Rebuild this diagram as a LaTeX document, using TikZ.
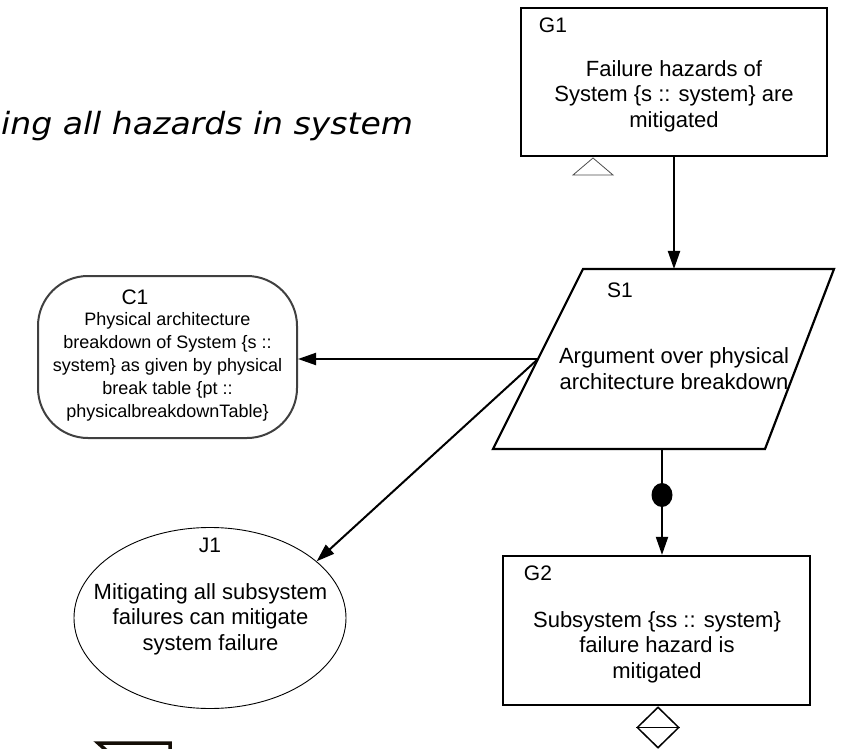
\documentclass[tikz,border=0pt]{standalone}
\usepackage{fontspec}
\setmainfont{Liberation Sans}
\newfontfamily\titlefont{DejaVu Sans}[FakeStretch=1.08]
\usetikzlibrary{arrows.meta,shapes.geometric}

\begin{document}
\begin{tikzpicture}[x=1pt,y=-1pt,
  goalbox/.style={draw=black,line width=2.2pt,rectangle,inner sep=0pt},
  ctxbox/.style={draw=black!75,line width=2pt,rectangle,rounded corners=50pt,inner sep=0pt},
  justbox/.style={draw=black,line width=0.9pt,ellipse,inner sep=0pt},
  link/.style={draw=black,line width=2pt,-{Triangle[length=18pt,width=12pt]}},
  body/.style={align=center,inner sep=0pt,font=\fontsize{22}{25.5}\selectfont},
  smallbody/.style={align=center,inner sep=0pt,font=\fontsize{18}{23}\selectfont},
  tag/.style={inner sep=0pt,font=\fontsize{21}{24}\selectfont},
]
\useasboundingbox (0,0) rectangle (847,749);

% heading along the upper left
\node[anchor=base west,inner sep=0pt,font=\titlefont\itshape\fontsize{30.6}{36}\selectfont] (title) at (1,135) {ing all hazards in system};

% G1 goal
\node[goalbox,minimum width=306pt,minimum height=148pt] (G1) at (674,82) {};
\node[tag] (G1tag) at (553,25) {G1};
\node[body] (G1txt) at (674,96) {Failure hazards of\\System \{s :: system\} are\\mitigated};
% undeveloped marker below G1
\draw[draw=black!70,line width=0.8pt] (593,158) -- (613,175) -- (573,175) -- cycle;

% S1 strategy
\coordinate (S1a) at (583,269);
\coordinate (S1b) at (834,269);
\coordinate (S1c) at (765,449);
\coordinate (S1d) at (493,449);
\draw[line width=2.2pt,line join=miter] (S1a) -- (S1b) -- (S1c) -- (S1d) -- cycle;
\node[tag] (S1tag) at (620,290) {S1};
\node[body] (S1txt) at (674,368.5) {Argument over physical\\architecture breakdown};
\coordinate (S1top) at (674,269);
\coordinate (S1left) at (538,359);
\coordinate (S1bot) at (662,449);

% C1 context
\node[ctxbox,minimum width=259pt,minimum height=162pt] (C1) at (167.5,357) {};
\node[tag] (C1tag) at (135,297) {C1};
\node[smallbody] (C1txt) at (167.5,367) {Physical architecture\\breakdown of System \{s ::\\system\} as given by physical\\break table \{pt ::\\physicalbreakdownTable\}};

% J1 justification
\node[justbox,minimum width=272pt,minimum height=181pt] (J1) at (210,618) {};
\node[tag] (J1tag) at (210,545) {J1};
\node[body] (J1txt) at (210.5,619) {Mitigating all subsystem\\failures can mitigate\\system failure};

% G2 goal
\node[goalbox,minimum width=307pt,minimum height=149pt] (G2) at (656.5,630.5) {};
\node[tag] (G2tag) at (538,573) {G2};
\node[body] (G2txt) at (657,647) {Subsystem \{ss :: system\}\\failure hazard is\\mitigated};
% to-be-instantiated marker below G2
\node[draw=black,line width=1.5pt,diamond,minimum width=42pt,minimum height=41pt,inner sep=0pt] (G2mark) at (658,727.5) {};
\draw[line width=1.5pt] (G2mark.west) -- (G2mark.east);

% connectors
\draw[link] (G1.south -| S1top) -- (S1top);
\draw[link] (S1left) -- (S1left -| C1.east);
\draw[link] (S1left) -- (J1.28.7);
\draw[link] (S1bot) -- (S1bot |- G2.north);
\fill (662,495) ellipse [x radius=10.5pt,y radius=12pt];

% partial mark at the lower edge
\draw[line width=3.5pt,draw=black!90!brown,line join=miter] (108,752) -- (98,743) -- (170,743) -- (170,752);
\end{tikzpicture}
\end{document}
